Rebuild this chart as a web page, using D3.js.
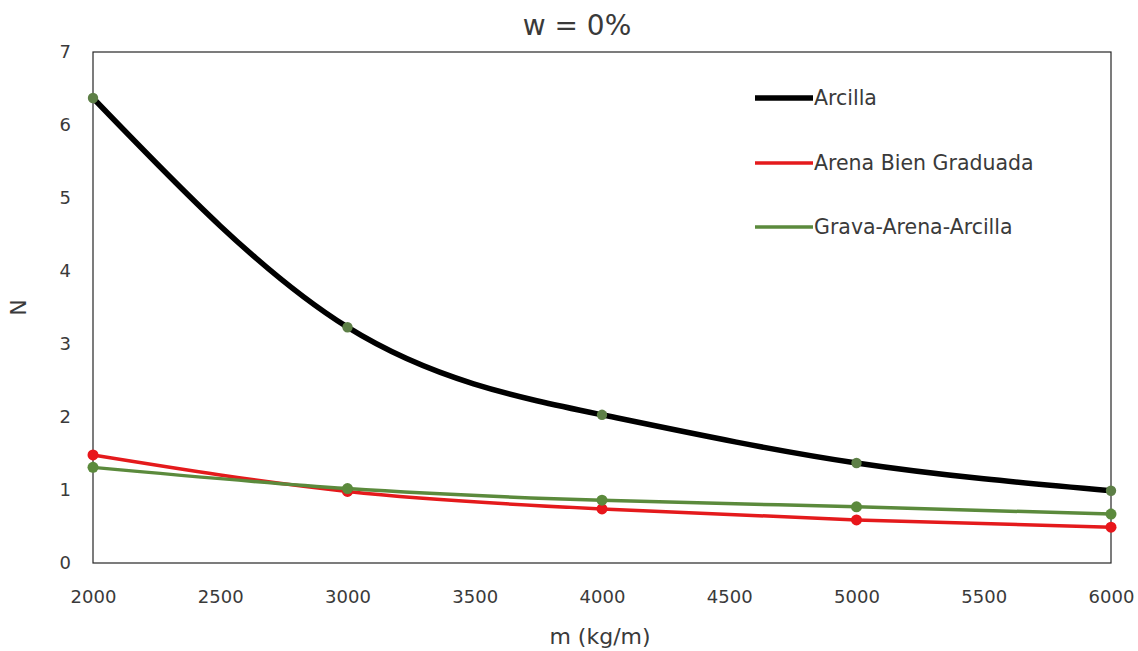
<!DOCTYPE html>
<html>
<head>
<meta charset="utf-8">
<script src="https://cdn.jsdelivr.net/npm/d3@7"></script>
<style>
  html, body { margin: 0; padding: 0; background: #fff; }
  svg { display: block; }
  text { font-family: "DejaVu Sans", sans-serif; fill: #3a3a3a; }
</style>
</head>
<body>
<svg id="chart" width="1138" height="651"></svg>
<script>
// Mass per unit length (kg/m)
const masses = [2000, 3000, 4000, 5000, 6000];
// N for each soil type
const arcilla = [6.37, 3.23, 2.03, 1.37, 0.99];
const arenaBienGraduada = [1.48, 0.98, 0.74, 0.59, 0.49];
const gravaArenaArcilla = [1.31, 1.02, 0.86, 0.77, 0.67];

const xTickValues = [2000, 2500, 3000, 3500, 4000, 4500, 5000, 5500, 6000];
const yTickValues = [0, 1, 2, 3, 4, 5, 6, 7];

const seriesNames = ["Arcilla", "Arena Bien Graduada", "Grava-Arena-Arcilla"];

const W = 1138, H = 651;
const margin = { left: 93, right: W - 1111, top: 52, bottom: H - 563 };

const svg = d3.select("#chart");

const x = d3.scaleLinear().domain([2000, 6000]).range([margin.left, W - margin.right]);
const y = d3.scaleLinear().domain([0, 7]).range([H - margin.bottom, margin.top]);

// Plot frame
svg.append("rect")
  .attr("x", x(2000)).attr("y", y(7))
  .attr("width", x(6000) - x(2000)).attr("height", y(0) - y(7))
  .attr("fill", "none").attr("stroke", "#262626").attr("stroke-width", 1.2);

// Axes (labels only)
const xAxis = svg.append("g")
  .attr("transform", `translate(0,${y(0)})`)
  .call(d3.axisBottom(x).tickValues(xTickValues).tickFormat(d3.format("d")).tickSize(0).tickPadding(27));
xAxis.select(".domain").remove();
xAxis.selectAll("text").attr("font-size", 18).attr("font-family", "DejaVu Sans").attr("fill", "#3a3a3a");

const yAxis = svg.append("g")
  .attr("transform", `translate(${x(2000)},0)`)
  .call(d3.axisLeft(y).tickValues(yTickValues).tickFormat(d3.format("d")).tickSize(0).tickPadding(22));
yAxis.select(".domain").remove();
yAxis.selectAll("text").attr("font-size", 18).attr("font-family", "DejaVu Sans").attr("fill", "#3a3a3a");

// Title and axis titles
svg.append("text")
  .attr("x", 577).attr("y", 35)
  .attr("text-anchor", "middle")
  .attr("font-size", 28)
  .text("w = 0%");

svg.append("text")
  .attr("x", 600).attr("y", 644)
  .attr("text-anchor", "middle")
  .attr("font-size", 22)
  .text("m (kg/m)");

svg.append("text")
  .attr("transform", `translate(26,${(y(0) + y(7)) / 2}) rotate(-90)`)
  .attr("text-anchor", "middle")
  .attr("font-size", 22)
  .text("N");

const series = [
  { name: seriesNames[1], values: arenaBienGraduada, color: "#e41a1c", width: 3.5, marker: "#e8161b", r: 5.5 },
  { name: seriesNames[2], values: gravaArenaArcilla, color: "#5b8a3c", width: 3.5, marker: "#5b8a3c", r: 5.5 },
  { name: seriesNames[0], values: arcilla, color: "#000000", width: 5.5, marker: "#5d7f46", r: 5.2 }
];

// Smoothed lines through the data points
const line = d3.line()
  .x(d => x(d[0]))
  .y(d => y(d[1]))
  .curve(d3.curveNatural);

series.forEach(s => {
  const pts = masses.map((m, i) => [m, s.values[i]]);
  svg.append("path")
    .datum(pts)
    .attr("d", line)
    .attr("fill", "none")
    .attr("stroke", s.color)
    .attr("stroke-width", s.width)
    .attr("stroke-linecap", "round");
  svg.append("g")
    .selectAll("circle")
    .data(pts)
    .join("circle")
    .attr("cx", d => x(d[0]))
    .attr("cy", d => y(d[1]))
    .attr("r", s.r)
    .attr("fill", s.marker);
});

// Legend
const legendItems = [
  { name: seriesNames[0], color: "#000000", width: 5.5, y: 98 },
  { name: seriesNames[1], color: "#e41a1c", width: 3.5, y: 163 },
  { name: seriesNames[2], color: "#5b8a3c", width: 3.5, y: 227 }
];
const legend = svg.append("g");
legendItems.forEach(item => {
  legend.append("line")
    .attr("x1", 755).attr("x2", 813)
    .attr("y1", item.y).attr("y2", item.y)
    .attr("stroke", item.color).attr("stroke-width", item.width);
  legend.append("text")
    .attr("x", 814).attr("y", item.y)
    .attr("dy", "0.35em")
    .attr("font-size", 20.5)
    .text(item.name);
});
</script>
</body>
</html>
